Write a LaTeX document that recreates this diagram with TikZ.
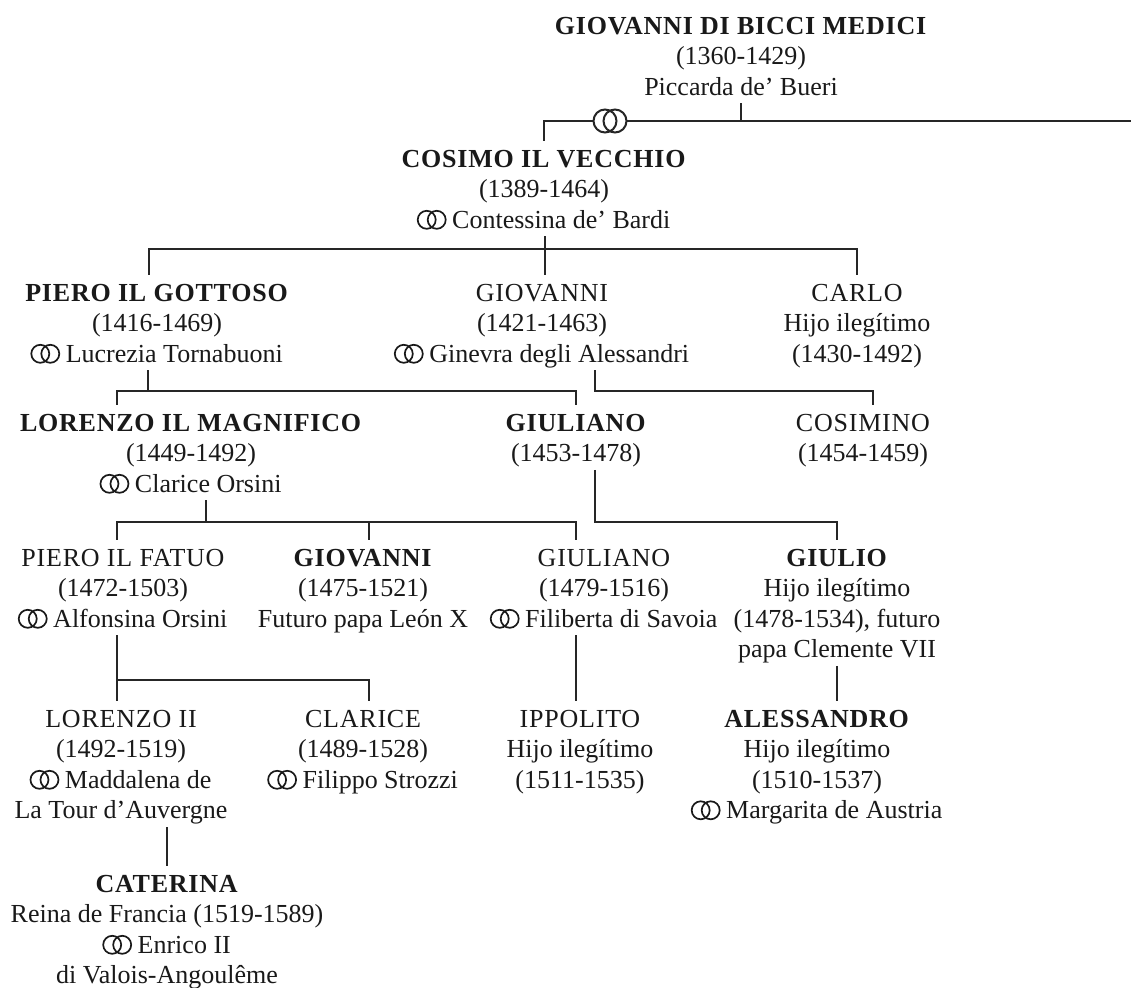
\documentclass[tikz,border=0pt]{standalone}
\usepackage{fontspec}
\setmainfont{Liberation Serif}
\usepackage{pict2e}
\usepackage{tikz}
\usetikzlibrary{positioning,calc}

% two linked rings, set in the text line
\newcommand{\rings}{\begingroup\setlength{\unitlength}{1pt}\linethickness{0.85pt}%
  \begin{picture}(14,9)\put(4.5,4.3){\circle{9}}\put(9.5,4.3){\circle{9}}\end{picture}\endgroup}
\newcommand{\nm}[1]{\rule{0pt}{13pt}{\addfontfeature{LetterSpace=3}#1}}
\newcommand{\bnm}[1]{\rule{0pt}{13pt}\textbf{\addfontfeature{LetterSpace=3}#1}}

\tikzset{
  member/.style={align=center, inner sep=0pt, anchor=north, text=black!90,
    font=\fontsize{13}{15.25}\selectfont,
    execute at end node={\rule[-3.75pt]{0pt}{3.75pt}}},
  link/.style={line width=0.9pt, black!85},
}

\begin{document}
\begin{tikzpicture}[x=0.5pt, y=-0.5pt]
\useasboundingbox (0,0) rectangle (1131,988);

% first generations
\node[member] (gdb) at (741,8) {\bnm{GIOVANNI DI BICCI MEDICI}\\(1360-1429)\\Piccarda de' Bueri};
\node[member] (cosimo) at (544,141) {\bnm{COSIMO IL VECCHIO}\\(1389-1464)\\\rings\ Contessina de' Bardi};

% children of Cosimo
\node[member] (pierog) at (157,275) {\bnm{PIERO IL GOTTOSO}\\(1416-1469)\\\rings\ Lucrezia Tornabuoni};
\node[member] (giov1) at (542,275) {\nm{GIOVANNI}\\(1421-1463)\\\rings\ Ginevra degli Alessandri};
\node[member] (carlo) at (857,275) {\nm{CARLO}\\Hijo ilegítimo\\(1430-1492)};

% grandchildren
\node[member] (lorenzo) at (191,405) {\bnm{LORENZO IL MAGNIFICO}\\(1449-1492)\\\rings\ Clarice Orsini};
\node[member] (giuliano) at (576,405) {\bnm{GIULIANO}\\(1453-1478)};
\node[member] (cosimino) at (863,405) {\nm{COSIMINO}\\(1454-1459)};

% children of Lorenzo and Giuliano
\node[member] (pierof) at (123,540) {\nm{PIERO IL FATUO}\\(1472-1503)\\\rings\ Alfonsina Orsini};
\node[member] (giov2) at (363,540) {\bnm{GIOVANNI}\\(1475-1521)\\Futuro papa León X};
\node[member] (giuliano2) at (604,540) {\nm{GIULIANO}\\(1479-1516)\\\rings\ Filiberta di Savoia};
\node[member] (giulio) at (837,540) {\bnm{GIULIO}\\Hijo ilegítimo\\(1478-1534), futuro\\papa Clemente VII};

% next generation
\node[member] (lorenzo2) at (121,701) {\nm{LORENZO II}\\(1492-1519)\\\rings\ Maddalena de\\La Tour d'Auvergne};
\node[member] (clarice) at (363,701) {\nm{CLARICE}\\(1489-1528)\\\rings\ Filippo Strozzi};
\node[member] (ippolito) at (580,701) {\nm{IPPOLITO}\\Hijo ilegítimo\\(1511-1535)};
\node[member] (alessandro) at (817,701) {\bnm{ALESSANDRO}\\Hijo ilegítimo\\(1510-1537)\\\rings\ Margarita de Austria};

\node[member] (caterina) at (167,866) {\bnm{CATERINA}\\Reina de Francia (1519-1589)\\\rings\ Enrico II\\di Valois-Angoulême};

% Giovanni di Bicci -- Cosimo
\coordinate (edge) at (1131,121);
\draw[link] (gdb.south) -- (gdb.south |- edge);
\draw[link] (cosimo.north) |- (edge);
\coordinate (wed) at (610,121);
\fill[white] ([xshift=-2.5pt]wed) circle (5.75pt) ([xshift=2.5pt]wed) circle (5.75pt);
\draw[line width=1pt, black!85] ([xshift=-2.5pt]wed) circle (5.75pt) ([xshift=2.5pt]wed) circle (5.75pt);

% Cosimo
\coordinate (k1) at (545,249);
\draw[link] (cosimo.south -| k1) -- (k1);
\draw[link] ([xshift=-4pt]pierog.north) |- (carlo.north |- k1) -- (carlo.north);
\draw[link] (giov1.north -| k1) -- (k1);

% Piero il Gottoso
\coordinate (k2) at (148,391);
\draw[link] (pierog.south -| k2) -- (k2);
\draw[link] ([xshift=-37pt]lorenzo.north) |- (giuliano.north |- k2) -- (giuliano.north);

% Giovanni
\coordinate (k3) at (595,391);
\draw[link] (giov1.south -| k3) -- (k3) -| ([xshift=5pt]cosimino.north);

% Lorenzo il Magnifico
\coordinate (k4) at (206,522);
\draw[link] (lorenzo.south -| k4) -- (k4);
\draw[link] ([xshift=-3pt]pierof.north) |- ([xshift=-14pt]giuliano2.north |- k4) -- ([xshift=-14pt]giuliano2.north);
\draw[link] ([xshift=3pt]giov2.north) -- ([xshift=3pt]giov2.north |- k4);

% Giuliano
\coordinate (k5) at (595,522);
\draw[link] (giuliano.south -| k5) -- (k5) -| (giulio.north);

% Piero il Fatuo
\coordinate (k6) at (117,680);
\draw[link] (pierof.south -| k6) -- (lorenzo2.north -| k6);
\draw[link] (k6) -| ([xshift=3pt]clarice.north);

% Giuliano, Giulio, Lorenzo II
\draw[link] ([xshift=-14pt]giuliano2.south) -- ([xshift=-14pt]giuliano2.south |- ippolito.north);
\draw[link] (giulio.south) -- (giulio.south |- alessandro.north);
\draw[link] (caterina.north) -- (caterina.north |- lorenzo2.south);
\end{tikzpicture}
\end{document}
